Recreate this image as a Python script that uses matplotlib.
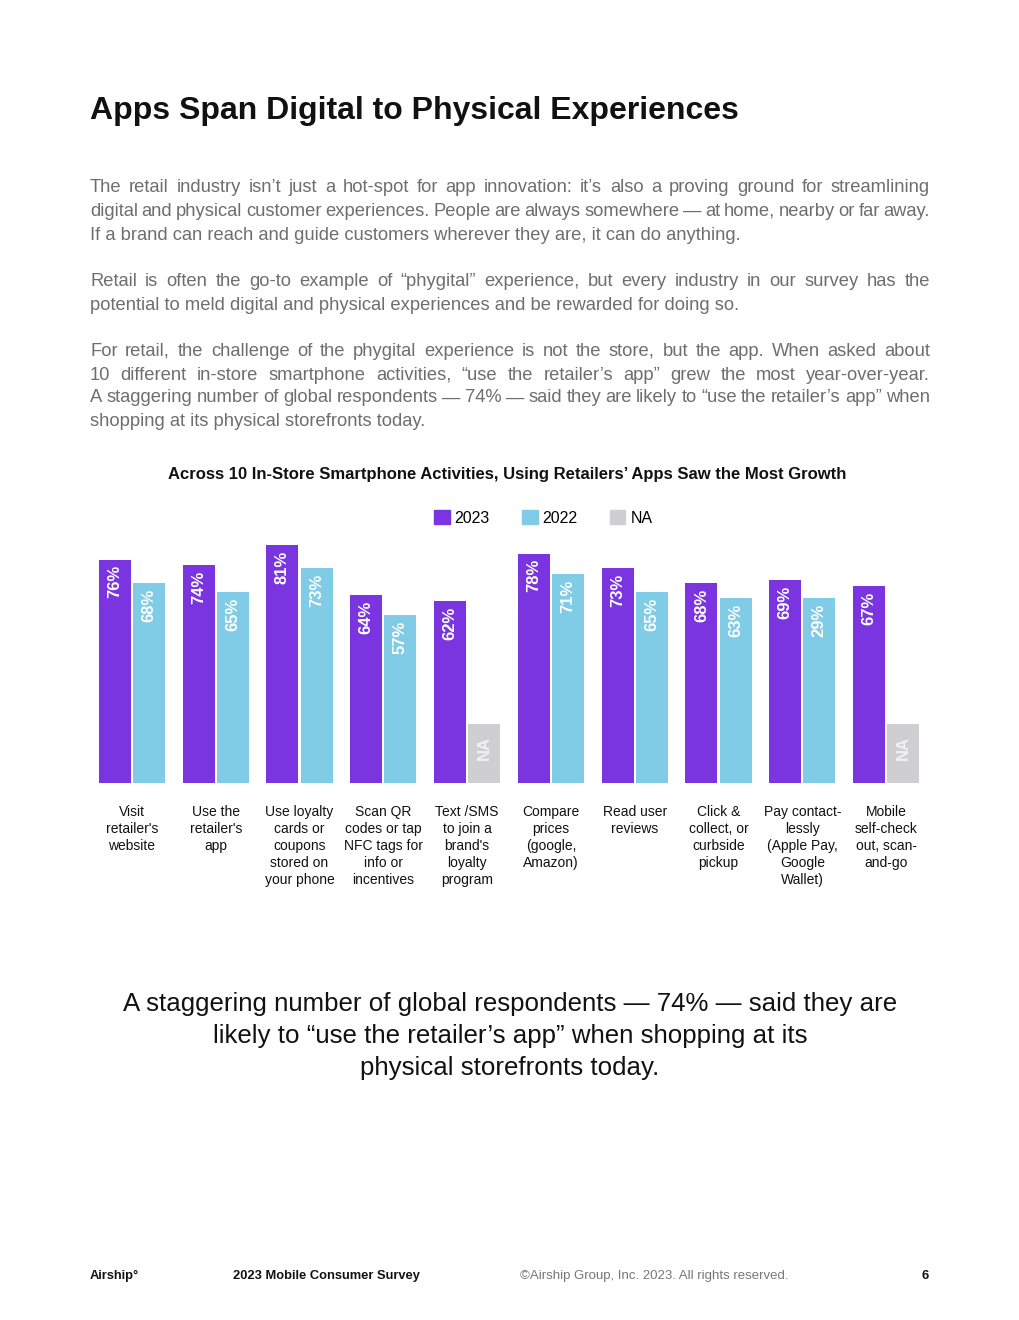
import matplotlib.pyplot as plt
import numpy as np
from matplotlib.patches import Patch
from matplotlib.transforms import IdentityTransform

plt.rcParams["font.family"] = ["Liberation Sans", "DejaVu Sans"]

W, H = 1020, 1320

categories = [
    "Visit\nretailer's\nwebsite",
    "Use the\nretailer's\napp",
    "Use loyalty\ncards or\ncoupons\nstored on\nyour phone",
    "Scan QR\ncodes or tap\nNFC tags for\ninfo or\nincentives",
    "Text /SMS\nto join a\nbrand's\nloyalty\nprogram",
    "Compare\nprices\n(google,\nAmazon)",
    "Read user\nreviews",
    "Click &\ncollect, or\ncurbside\npickup",
    "Pay contact-\nlessly\n(Apple Pay,\nGoogle\nWallet)",
    "Mobile\nself-check\nout, scan-\nand-go",
]
v2023 = [76, 74, 81, 64, 62, 78, 73, 68, 69, 67]
# bar heights as drawn in the source; nan = not asked that year
v2022 = [68, 65, 73, 57, np.nan, 71, 65, 63, 63, np.nan]
# labels as printed (the source prints 29% on the contactless 2022 bar)
labels2022 = ["68%", "65%", "73%", "57%", "NA", "71%", "65%", "63%", "29%", "NA"]
na_height = 20

PURPLE = "#7a35e1"
BLUE = "#80cbe5"
GREY = "#cfcfd1"

title = "Apps Span Digital to Physical Experiences"
paragraphs = [
    [
        "The retail industry isn’t just a hot-spot for app innovation: it’s also a proving ground for streamlining",
        "digital and physical customer experiences. People are always somewhere — at home, nearby or far away.",
        "If a brand can reach and guide customers wherever they are, it can do anything.",
    ],
    [
        "Retail is often the go-to example of “phygital” experience, but every industry in our survey has the",
        "potential to meld digital and physical experiences and be rewarded for doing so.",
    ],
    [
        "For retail, the challenge of the phygital experience is not the store, but the app. When asked about",
        "10 different in-store smartphone activities, “use the retailer’s app” grew the most year-over-year.",
        "A staggering number of global respondents — 74% — said they are likely to “use the retailer’s app” when",
        "shopping at its physical storefronts today.",
    ],
]
para_y = [[188, 211, 235], [281, 305], [351, 375, 398, 421]]
chart_title = "Across 10 In-Store Smartphone Activities, Using Retailers’ Apps Saw the Most Growth"
quote = ("A staggering number of global respondents — 74% — said they are\n"
         "likely to “use the retailer’s app” when shopping at its\n"
         "physical storefronts today.")

fig = plt.figure(figsize=(W / 100, H / 100), dpi=100)
ident = IdentityTransform()


def ptext(x, y, s, **kw):
    # place text in pixel coords measured from the top-left corner
    return fig.text(x, H - y, s, transform=ident, **kw)


ptext(90, 111, title, fontsize=23, fontweight="bold", va="center", color="#111111")

renderer = fig.canvas.get_renderer()
x0, x1 = 90, 930
for lines, ys in zip(paragraphs, para_y):
    for i, (line, y) in enumerate(zip(lines, ys)):
        kw = dict(fontsize=13.2, color="#6e6e6e", va="center")
        if i == len(lines) - 1:
            ptext(x0, y, line, **kw)
            continue
        words = line.split(" ")
        ts = [ptext(0, y, w, **kw) for w in words]
        widths = [t.get_window_extent(renderer).width for t in ts]
        gap = (x1 - x0 - sum(widths)) / (len(words) - 1)
        x = x0
        for t, w in zip(ts, widths):
            t.set_x(x)
            x += w + gap

ptext(507, 474, chart_title, fontsize=12, fontweight="bold", ha="center", va="center",
      color="#111111")

# chart axes: baseline at y=783px, 100% = 294px; group pitch 83.8px
ax = fig.add_axes([90 / W, (H - 783) / H, 838 / W, 294 / H])
x = np.arange(len(categories))
bw = 0.382
off = 0.203
h2022 = [na_height if np.isnan(v) else v for v in v2022]
c2022 = [GREY if np.isnan(v) else BLUE for v in v2022]
ax.bar(x - off, v2023, width=bw, color=PURPLE)
ax.bar(x + off, h2022, width=bw, color=c2022)
ax.set_xlim(-0.5, len(categories) - 0.5)
ax.set_ylim(0, 100)
ax.axis("off")

lab_kw = dict(rotation=90, ha="center", color="white", fontsize=12, fontweight="bold")
for xi, v in zip(x, v2023):
    ax.annotate(f"{v}%", (xi - off, v), xytext=(0, -4), textcoords="offset points",
                va="top", **lab_kw)
for xi, v, lab in zip(x, v2022, labels2022):
    if np.isnan(v):
        ax.annotate(lab, (xi + off, na_height / 2 + 2), va="center",
                    **(lab_kw | dict(color="#f2f2f2")))
    else:
        ax.annotate(lab, (xi + off, v), xytext=(0, -4), textcoords="offset points",
                    va="top", **lab_kw)

for xi, cat in zip(x, categories):
    ax.annotate(cat, (xi, 0), xytext=(0, -16), textcoords="offset points",
                ha="center", va="top", fontsize=10, linespacing=1.26, color="#111111")

handles = [Patch(color=PURPLE, label="2023"), Patch(color=BLUE, label="2022"),
           Patch(color=GREY, label="NA")]
fig.legend(handles=handles, ncol=3, frameon=False, loc="center",
           bbox_to_anchor=(543 / W, (H - 518) / H), fontsize=11.5,
           handlelength=1.0, handleheight=1.0, handletextpad=0.3, columnspacing=2.0)

ptext(510, 1036, quote, fontsize=18.6, ha="center", va="center", linespacing=1.4,
      color="#111111")

ptext(90, 1276, "Airship°", fontsize=9.3, fontweight="bold", va="center", color="#111111")
ptext(233, 1276, "2023 Mobile Consumer Survey", fontsize=9.3, fontweight="bold",
      va="center", color="#111111")
ptext(520, 1276, "©Airship Group, Inc. 2023. All rights reserved.", fontsize=9.5,
      va="center", color="#777777")
ptext(929, 1276, "6", fontsize=9.3, fontweight="bold", ha="right", va="center",
      color="#111111")

fig.savefig("out.png", dpi=100)
